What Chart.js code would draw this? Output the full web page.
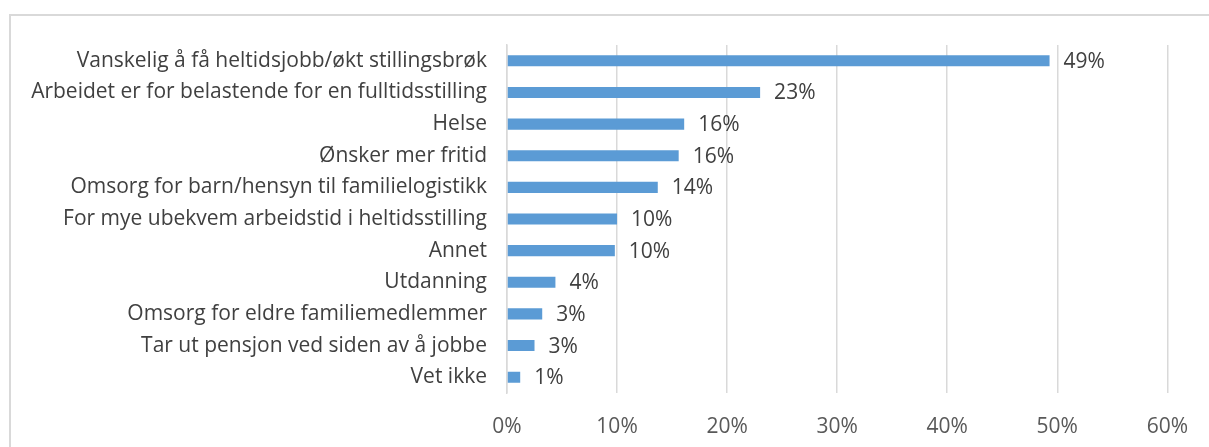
<!DOCTYPE html>
<html lang="en">

<head>
    <meta charset="UTF-8">
    <script src="https://cdn.jsdelivr.net/npm/chart.js"></script>
    <title>Årsaker til deltid</title>
    <style>
        html, body { margin: 0; padding: 0; background: #fff; }
        #wrap { width: 1209px; height: 447px; position: relative; }
    </style>
</head>

<body>
    <div id="wrap">
        <canvas id="myBarChart"></canvas>
    </div>
    <script>
        const categories = [
            "Vanskelig å få heltidsjobb/økt stillingsbrøk",
            "Arbeidet er for belastende for en fulltidsstilling",
            "Helse",
            "Ønsker mer fritid",
            "Omsorg for barn/hensyn til familielogistikk",
            "For mye ubekvem arbeidstid i heltidsstilling",
            "Annet",
            "Utdanning",
            "Omsorg for eldre familiemedlemmer",
            "Tar ut pensjon ved siden av å jobbe",
            "Vet ikke"
        ];
        const shares = [49.3, 23.0, 16.1, 15.6, 13.7, 10.0, 9.8, 4.4, 3.2, 2.5, 1.2];
        const xTicks = [0, 10, 20, 30, 40, 50, 60];

        const fontFamily = "'Open Sans', 'Liberation Sans', sans-serif";
        const labelSize = 21;
        const numberSize = 21;

        // frame around the chart and value labels after each bar
        const extras = {
            id: "extras",
            beforeDraw(chart) {
                const c = chart.ctx;
                c.save();
                c.strokeStyle = "#d9d9d9";
                c.lineWidth = 2;
                c.strokeRect(10, 15, 1300, 500);
                c.restore();
            },
            afterDatasetsDraw(chart) {
                const c = chart.ctx;
                const meta = chart.getDatasetMeta(0);
                c.save();
                c.font = numberSize + "px " + fontFamily;
                c.fillStyle = "#404040";
                c.textBaseline = "middle";
                c.textAlign = "left";
                meta.data.forEach((bar, i) => {
                    c.fillText(Math.round(shares[i]) + "%", bar.x + 14, bar.y + 1);
                });
                c.restore();
            }
        };

        new Chart(document.getElementById("myBarChart"), {
            type: "bar",
            data: {
                labels: categories,
                datasets: [{
                    data: shares,
                    backgroundColor: "#5b9bd5",
                    barPercentage: 0.7,
                    categoryPercentage: 0.5
                }]
            },
            options: {
                indexAxis: "y",
                responsive: true,
                maintainAspectRatio: false,
                animation: false,
                layout: { padding: { top: 45, right: 36, bottom: 0, left: 0 } },
                plugins: {
                    legend: { display: false },
                    tooltip: { enabled: false }
                },
                scales: {
                    x: {
                        min: 0,
                        max: 60,
                        afterBuildTicks: (s) => { s.ticks = xTicks.map(v => ({ value: v })); },
                        afterFit: (s) => { s.height = 54; },
                        grid: { color: "#d9d9d9", lineWidth: 1.5, drawTicks: false },
                        border: { display: false },
                        ticks: {
                            padding: 21,
                            color: "#595959",
                            font: { family: fontFamily, size: numberSize },
                            callback: (v) => v + "%"
                        }
                    },
                    y: {
                        afterFit: (s) => { s.width = 507; },
                        grid: { display: false, drawTicks: false },
                        border: { color: "#d9d9d9", width: 1.5 },
                        ticks: {
                            padding: 20,
                            color: "#404040",
                            autoSkip: false,
                            font: { family: fontFamily, size: labelSize }
                        }
                    }
                }
            },
            plugins: [extras]
        });
    </script>
</body>

</html>
